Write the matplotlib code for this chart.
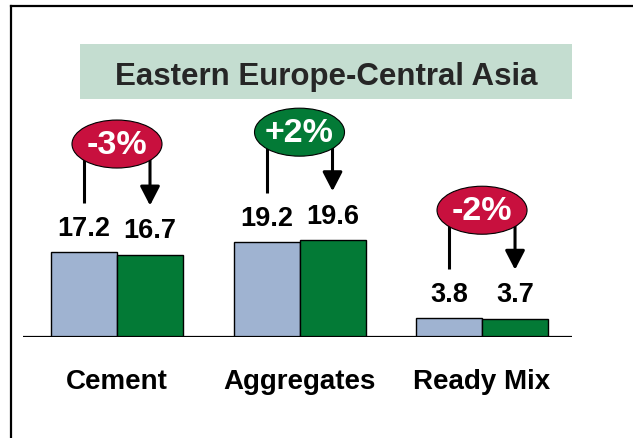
import matplotlib.pyplot as plt
from matplotlib.patches import Ellipse, Rectangle
from matplotlib.lines import Line2D
import numpy as np

plt.rcParams['font.family'] = ['Liberation Sans', 'DejaVu Sans']
plt.rcParams['font.weight'] = 'bold'

title = "Eastern Europe-Central Asia"
categories = ["Cement", "Aggregates", "Ready Mix"]
prev_values = [17.2, 19.2, 3.8]
curr_values = [16.7, 19.6, 3.7]
changes = ["-3%", "+2%", "-2%"]
change_colors = ["#c8103e", "#037a36", "#c8103e"]

W, H = 633, 439
fig = plt.figure(figsize=(W / 100, H / 100), dpi=100)

# axes placed so that baseline sits at y~338px and one unit = 4.94px
px_per_unit = 4.94
base_px = 338
ax = fig.add_axes([23 / W, (H - base_px) / H, 549 / W, base_px / H])
ax.set_xlim(-0.515, 2.493)
ax.set_ylim(0, base_px / px_per_unit)
ax.axis('off')

group_px = 182.5
bw = 66 / group_px
x = np.arange(len(categories))

ax.bar(x - bw / 2, prev_values, bw, color="#9fb3d1", edgecolor="black", linewidth=1, zorder=2)
ax.bar(x + bw / 2, curr_values, bw, color="#037a36", edgecolor="black", linewidth=1, zorder=2)
ax.axhline(0, color="black", linewidth=1.6, zorder=3)

def u(px):
    return px / px_per_unit

for i in range(len(categories)):
    for xx, v in [(x[i] - bw / 2, prev_values[i]), (x[i] + bw / 2, curr_values[i])]:
        ax.annotate(f"{v}", xy=(xx, v), xytext=(0, 17.5), textcoords="offset points",
                    ha="center", va="center", fontsize=19.5, fontweight="bold")
    top = max(prev_values[i], curr_values[i])
    ey = top + u(108)
    # connector line from ellipse to first value, arrow to second value
    ax.plot([x[i] - bw / 2] * 2, [ey, prev_values[i] + u(49)], color="black", lw=2.2,
            solid_capstyle="butt", zorder=4)
    ax.annotate("", xy=(x[i] + bw / 2, curr_values[i] + u(49)), xytext=(x[i] + bw / 2, ey),
                arrowprops=dict(arrowstyle="-|>,head_length=0.58,head_width=0.3",
                                color="black", lw=2.2, shrinkA=0, shrinkB=0,
                                mutation_scale=20), zorder=4)
    ax.add_patch(Ellipse((x[i], ey), 90 / group_px, u(48), facecolor=change_colors[i],
                         edgecolor="black", linewidth=0.8, zorder=5, clip_on=False))
    ax.text(x[i], ey, changes[i], ha="center", va="center", color="white",
            fontsize=24.5, fontweight="bold", zorder=6)
    ax.annotate(categories[i], xy=(x[i], 0), xytext=(0, -37), textcoords="offset points",
                ha="center", va="baseline", fontsize=20, fontweight="bold")

# title box
fig.patches.append(Rectangle((80 / W, 1 - 100 / H), 492 / W, 55 / H, transform=fig.transFigure,
                             facecolor="#c4ddd0", edgecolor="none", zorder=0))
fig.text(326 / W, 1 - 85 / H, title, ha="center", va="baseline", fontsize=22.5,
         fontweight="bold", color="#262626")

# outer frame (left and top edges only visible)
fig.lines.append(Line2D([11 / W, 11 / W], [0, 1 - 7 / H], transform=fig.transFigure,
                        color="black", lw=1.6))
fig.lines.append(Line2D([11 / W, 1], [1 - 7 / H, 1 - 7 / H], transform=fig.transFigure,
                        color="black", lw=1.6))

fig.savefig("out.png", dpi=100)
